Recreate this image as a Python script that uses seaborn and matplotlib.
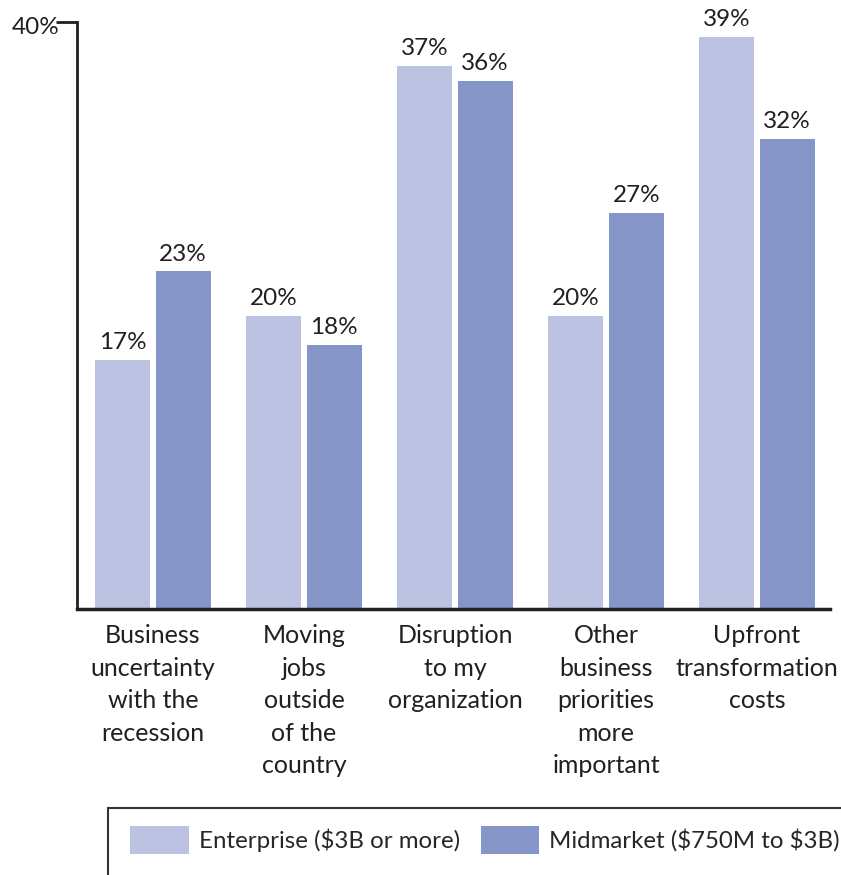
import matplotlib
matplotlib.use("Agg")
import matplotlib.pyplot as plt
from matplotlib.patches import Rectangle
import seaborn as sns
import pandas as pd

categories = ["Business\nuncertainty\nwith the\nrecession",
              "Moving\njobs\noutside\nof the\ncountry",
              "Disruption\nto my\norganization",
              "Other\nbusiness\npriorities\nmore\nimportant",
              "Upfront\ntransformation\ncosts"]
segments = ["Enterprise (\\$3B or more)", "Midmarket (\\$750M to \\$3B)"]
enterprise = [17, 20, 37, 20, 39]
midmarket = [23, 18, 36, 27, 32]
ytick_values = [40]
ytick_labels = ["40%"]
colors = ["#BCC3E2", "#8595C8"]

df = pd.DataFrame({
    "category": categories * 2,
    "segment": [segments[0]] * len(categories) + [segments[1]] * len(categories),
    "value": enterprise + midmarket,
})

sns.set_theme(style="white")
plt.rcParams["font.family"] = ["Lato", "DejaVu Sans"]
FS = 17.5
TXT = "#231f20"

fig = plt.figure(figsize=(8.41, 8.75), dpi=100)
ax = fig.add_axes([77/841, 1 - 609/875, (830-77)/841, (609-22)/875])

sns.barplot(data=df, x="category", y="value", hue="segment", order=categories,
            hue_order=segments, palette=colors, saturation=1, width=0.8, gap=0.09,
            ax=ax, linewidth=0)

for cont in ax.containers:
    ax.bar_label(cont, labels=[f"{int(v.get_height())}%" for v in cont],
                 padding=5, fontsize=FS, color=TXT, clip_on=False)

ax.set_ylim(0, 40)
ax.set_xlim(-0.503, 4.483)
ax.set_yticks(ytick_values)
ax.set_yticklabels([""] * len(ytick_values))
ax.tick_params(axis="y", left=True, length=15, width=2, direction="out", pad=1, colors=TXT)
for v, lab in zip(ytick_values, ytick_labels):
    ax.annotate(lab, xy=(0, v), xycoords=("axes fraction", "data"),
                xytext=(-12.5, -4), textcoords="offset points",
                ha="right", va="center", fontsize=FS, color=TXT, annotation_clip=False)
ax.tick_params(axis="x", bottom=False, pad=5)
ax.set_xticks(range(len(categories)))
ax.set_xticklabels(categories, fontsize=18, color=TXT, linespacing=1.5)
ax.set_xlabel("")
ax.set_ylabel("")
for s in ["top", "right"]:
    ax.spines[s].set_visible(False)
ax.spines["left"].set_linewidth(2)
ax.spines["left"].set_color(TXT)
ax.spines["bottom"].set_linewidth(2.5)
ax.spines["bottom"].set_color(TXT)

handles, labels = ax.get_legend_handles_labels()
ax.get_legend().remove()
fig.legend(handles, labels, loc="center left", bbox_to_anchor=(130/841, 1 - 840/875),
           ncol=2, frameon=False, fontsize=17.3, handlelength=2.45, handleheight=1.45,
           handletextpad=0.42, columnspacing=0.85, borderpad=0, borderaxespad=0)

fig.patches.append(Rectangle((108/841, -0.1), 1.0, 0.1 + (875-808)/875,
                             transform=fig.transFigure, fill=False,
                             edgecolor="#333333", linewidth=1.5))

fig.savefig("out.png", dpi=100)
